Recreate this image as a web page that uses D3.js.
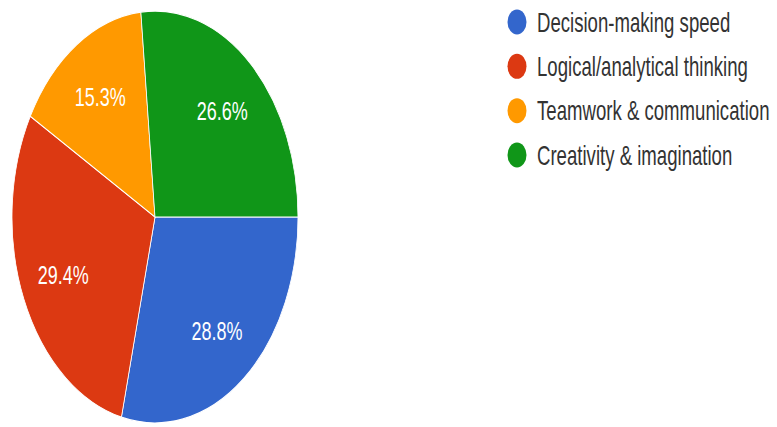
<!DOCTYPE html>
<html>
<head>
<meta charset="utf-8">
<script src="https://cdn.jsdelivr.net/npm/d3@7"></script>
<style>
  html, body { margin: 0; padding: 0; background: #fff; }
  svg { display: block; }
  text { font-family: "Liberation Sans", Arial, sans-serif; }
</style>
</head>
<body>
<svg id="chart" width="777" height="427"></svg>
<script>
// Survey answers, in legend order
const categories = [
  "Decision-making speed",
  "Logical/analytical thinking",
  "Teamwork & communication",
  "Creativity & imagination"
];
const shares = [28.8, 29.4, 15.3, 26.6];
const palette = ["#3366cc", "#dc3912", "#ff9900", "#109618"];

const width = 777, height = 427;
const cx = 155, cy = 217;
const r = 143;           // horizontal radius
const stretch = 1.44;    // vertical elongation of the whole chart

const svg = d3.select("#chart");

const color = d3.scaleOrdinal().domain(categories).range(palette);

const pie = d3.pie()
  .sort(null)
  .value(d => d.value)
  .startAngle(Math.PI / 2)
  .endAngle(Math.PI / 2 + 2 * Math.PI);

const data = categories.map((c, i) => ({ name: c, value: shares[i] }));
const arcs = pie(data);

const arc = d3.arc().innerRadius(0).outerRadius(r);
const labelArc = d3.arc().innerRadius(r * 0.7).outerRadius(r * 0.7);

const pieG = svg.append("g")
  .attr("transform", `translate(${cx},${cy}) scale(1,${stretch})`);

pieG.selectAll("path")
  .data(arcs)
  .join("path")
  .attr("d", arc)
  .attr("fill", d => color(d.data.name))
  .attr("stroke", "#ffffff")
  .attr("stroke-width", 0.8);

// Percentage labels, placed at 70% of the radius
const labelG = svg.append("g").attr("transform", `translate(${cx},${cy})`);
labelG.selectAll("text")
  .data(arcs)
  .join("text")
  .attr("transform", d => {
    const [x, y] = labelArc.centroid(d);
    return `translate(${x},${y * stretch}) scale(1,${stretch})`;
  })
  .attr("text-anchor", "middle")
  .attr("dy", "0.36em")
  .attr("fill", "#ffffff")
  .attr("font-size", 18)
  .text(d => d.data.value.toFixed(1) + "%");

// Legend
const legend = svg.append("g").attr("transform", "translate(517,22)");
const rowY = d3.scalePoint().domain(categories).range([0, 133]);

const rows = legend.selectAll("g")
  .data(categories)
  .join("g")
  .attr("transform", d => `translate(0,${rowY(d)})`);

rows.append("ellipse")
  .attr("rx", 9.5)
  .attr("ry", 12.5)
  .attr("fill", d => color(d));

rows.append("text")
  .attr("transform", `translate(20,0) scale(1,${stretch})`)
  .attr("dy", "0.36em")
  .attr("fill", "#333333")
  .attr("font-size", 18.6)
  .text(d => d);
</script>
</body>
</html>
